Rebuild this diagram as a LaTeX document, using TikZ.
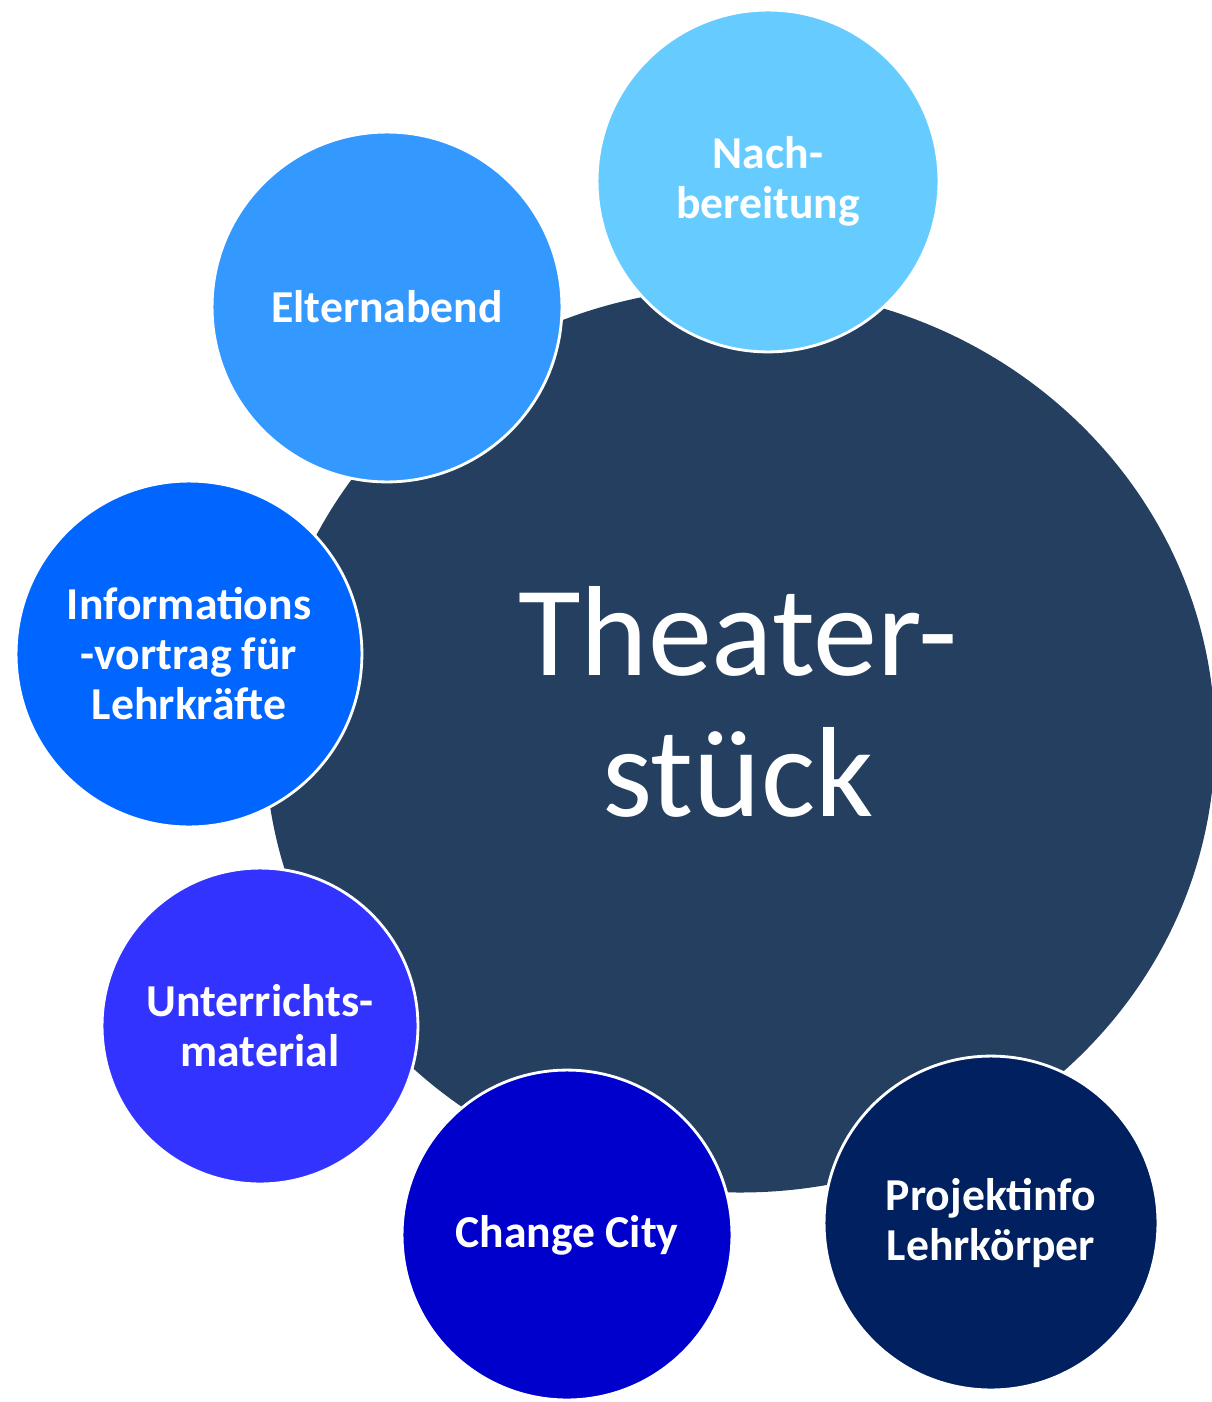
\documentclass[tikz,border=0pt]{standalone}
\usepackage{fontspec}
\setmainfont{Carlito}
\usetikzlibrary{shapes.geometric}

\definecolor{stueckblau}{HTML}{243F60}
\definecolor{nachblau}{HTML}{66CCFF}
\definecolor{elternblau}{HTML}{3399FF}
\definecolor{infoblau}{HTML}{0066FF}
\definecolor{unterrichtblau}{HTML}{3333FF}
\definecolor{cityblau}{HTML}{0000CC}
\definecolor{projektblau}{HTML}{002060}

\begin{document}
\begin{tikzpicture}[x=0.02cm,y=-0.02cm,
    bubble/.style 2 args={circle,fill=#1,draw=white,line width=1.6pt,
      minimum size=#2*0.04cm,inner sep=0pt,align=center,text=white,
      font=\bfseries\fontsize{26}{28.5}\selectfont}]
    \useasboundingbox (0,0) rectangle (1212,1402);
    \clip (0,0) rectangle (1212,1402);
    \node[ellipse,fill=stueckblau,minimum width=950*0.02cm,minimum height=905*0.02cm,inner sep=0pt] (stueck) at (740,740) {};
    \node[text=white,align=center,font=\fontsize{73}{80}\selectfont] (stuecktext) at (738,702) {Theater-\\stück};
    \node[bubble={nachblau}{171}] (nach) at (768,181) {Nach-\\bereitung};
    \node[bubble={elternblau}{175}] (eltern) at (387,307) {Elternabend};
    \node[bubble={infoblau}{173}] (info) at (189,654) {Informations\\-vortrag für\\Lehrkräfte};
    \node[bubble={unterrichtblau}{158}] (unterricht) at (260,1026) {Unterrichts-\\material};
    \node[bubble={cityblau}{165}] (city) at (567,1235) {Change City};
    \node[bubble={projektblau}{167}] (projekt) at (991,1223) {Projektinfo\\Lehrkörper};
\end{tikzpicture}
\end{document}
